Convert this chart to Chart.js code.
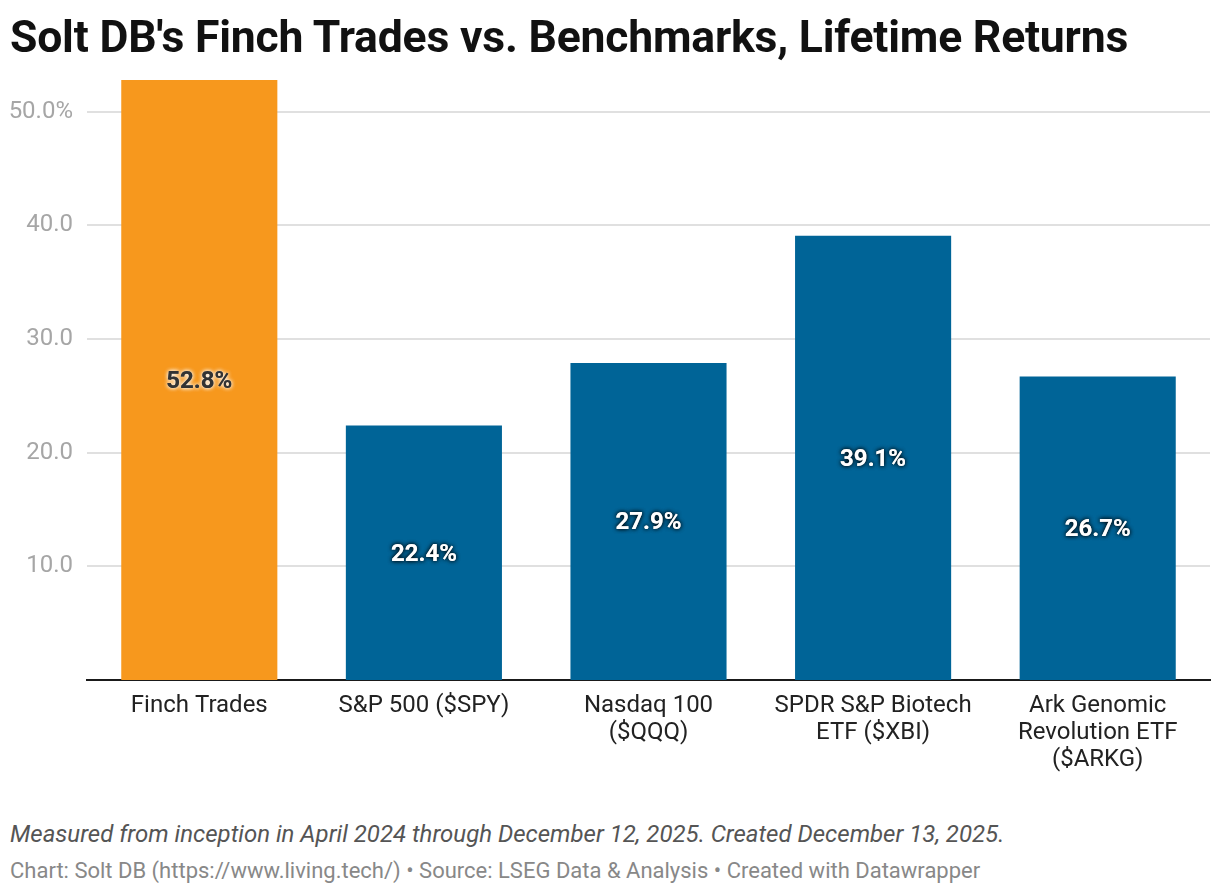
<!DOCTYPE html>
<html>
<head>
<meta charset="utf-8">
<script src="https://cdn.jsdelivr.net/npm/chart.js@4"></script>
<style>
	body { margin: 0; background: #fff; font-family: Roboto, sans-serif; }
	#wrap { position: relative; width: 1220px; height: 894px; }
	#title { position: absolute; left: 10px; top: 11px; font-size: 44.5px; font-weight: 700; color: #111; letter-spacing: -0.2px; }
	#chartbox { position: absolute; left: 0; top: 0; width: 1220px; height: 800px; }
	#note { position: absolute; left: 10px; top: 820px; font-size: 24px; font-style: italic; color: #555; }
	#source { position: absolute; left: 10px; top: 858px; font-size: 22px; color: #888; }
</style>
</head>
<body>
<div id="wrap">
	<div id="chartbox"><canvas id="returns"></canvas></div>
	<div id="title">Solt DB's Finch Trades vs. Benchmarks, Lifetime Returns</div>
	<div id="note">Measured from inception in April 2024 through December 12, 2025. Created December 13, 2025.</div>
	<div id="source">Chart: Solt DB (https://www.living.tech/) • Source: LSEG Data &amp; Analysis • Created with Datawrapper</div>
</div>
<script>
var categories = [
	'Finch Trades',
	'S&P 500 ($SPY)',
	['Nasdaq 100', '($QQQ)'],
	['SPDR S&P Biotech', 'ETF ($XBI)'],
	['Ark Genomic', 'Revolution ETF', '($ARKG)']
];
var returns = [52.8, 22.4, 27.9, 39.1, 26.7];
var barColors = ['#f7981d', '#006497', '#006497', '#006497', '#006497'];
var yTicks = [10, 20, 30, 40, 50];

// value labels in the middle of each bar
var barLabels = {
	id: 'barLabels',
	afterDatasetsDraw: function(chart) {
		var ctx = chart.ctx;
		var meta = chart.getDatasetMeta(0);
		ctx.save();
		ctx.font = 'bold 24px Roboto';
		ctx.textAlign = 'center';
		ctx.textBaseline = 'middle';
		meta.data.forEach(function(bar, i) {
			var txt = returns[i].toFixed(1) + '%';
			var y = (bar.y + bar.base) / 2 + 2;
			if (i === 0) {
				ctx.shadowColor = 'rgba(255,255,255,0.9)';
				ctx.fillStyle = '#333';
			} else {
				ctx.shadowColor = 'rgba(0,0,0,0.8)';
				ctx.fillStyle = '#fff';
			}
			ctx.shadowBlur = 4;
			ctx.fillText(txt, bar.x, y);
			ctx.fillText(txt, bar.x, y);
		});
		ctx.restore();
	}
};

var ctx = document.getElementById('returns').getContext('2d');
new Chart(ctx, {
	type: 'bar',
	data: {
		labels: categories,
		datasets: [{
			data: returns,
			backgroundColor: barColors,
			borderWidth: 0,
			barPercentage: 0.695,
			categoryPercentage: 1
		}]
	},
	options: {
		responsive: true,
		maintainAspectRatio: false,
		animation: false,
		layout: { padding: { top: 80, right: 10, left: 0, bottom: 0 } },
		plugins: {
			legend: { display: false },
			tooltip: { enabled: false }
		},
		scales: {
			x: {
				grid: { display: false, drawTicks: false },
				border: { display: true, color: '#1a1a1a', width: 2 },
				ticks: {
					color: '#222',
					font: { family: 'Roboto', size: 24, lineHeight: 1.125 },
					padding: 12,
					maxRotation: 0,
					autoSkip: false
				},
				afterFit: function(scale) { scale.height = 120; }
			},
			y: {
				min: 0,
				max: 52.8,
				grid: { color: '#e0e0e0', lineWidth: 2, drawTicks: false },
				border: { display: false },
				ticks: {
					color: '#a6a6a6',
					font: { family: 'Roboto', size: 24 },
					padding: 14,
					callback: function(v) { return v === 50 ? v.toFixed(1) + '%' : v.toFixed(1); }
				},
				afterBuildTicks: function(scale) {
					scale.ticks = yTicks.map(function(v) { return { value: v }; });
				},
				afterFit: function(scale) { scale.width = 87; }
			}
		}
	},
	plugins: [barLabels]
});
</script>
</body>
</html>
